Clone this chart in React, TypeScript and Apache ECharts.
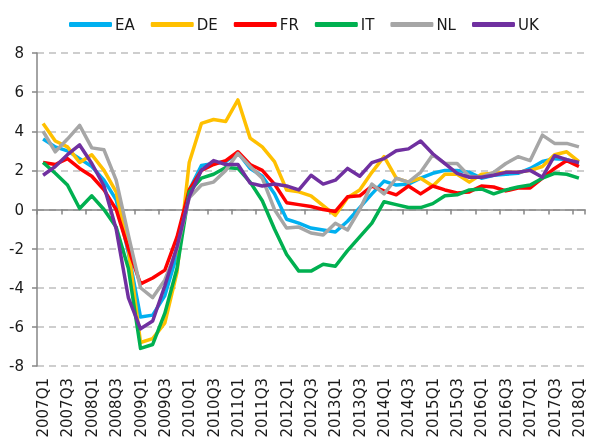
import React, { useEffect, useRef } from "react";
import * as echarts from "echarts";

const categories = [
  "2007Q1", "2007Q2", "2007Q3", "2007Q4",
  "2008Q1", "2008Q2", "2008Q3", "2008Q4",
  "2009Q1", "2009Q2", "2009Q3", "2009Q4",
  "2010Q1", "2010Q2", "2010Q3", "2010Q4",
  "2011Q1", "2011Q2", "2011Q3", "2011Q4",
  "2012Q1", "2012Q2", "2012Q3", "2012Q4",
  "2013Q1", "2013Q2", "2013Q3", "2013Q4",
  "2014Q1", "2014Q2", "2014Q3", "2014Q4",
  "2015Q1", "2015Q2", "2015Q3", "2015Q4",
  "2016Q1", "2016Q2", "2016Q3", "2016Q4",
  "2017Q1", "2017Q2", "2017Q3", "2017Q4",
  "2018Q1",
];

const EA = [3.6, 3.2, 3.0, 2.6, 2.2, 1.5, 0.5, -2.2, -5.5, -5.4, -4.4, -2.3, 1.0, 2.25, 2.35, 2.45, 2.9, 2.1, 1.7, 0.8, -0.5, -0.7, -0.95, -1.05, -1.15, -0.6, 0.1, 0.8, 1.45, 1.25, 1.3, 1.6, 1.85, 2.0, 2.0, 1.9, 1.6, 1.75, 1.8, 1.85, 2.1, 2.45, 2.6, 2.55, 2.35];
const DE = [4.4, 3.5, 3.2, 2.4, 2.8, 2.0, 0.9, -2.0, -6.8, -6.6, -5.8, -3.2, 2.4, 4.4, 4.6, 4.5, 5.6, 3.65, 3.2, 2.45, 1.0, 0.9, 0.7, 0.2, -0.3, 0.6, 1.0, 1.9, 2.7, 1.6, 1.4, 1.6, 1.2, 1.8, 1.8, 1.4, 1.8, 1.85, 1.9, 1.9, 2.0, 2.2, 2.8, 2.95, 2.45];
const FR = [2.4, 2.3, 2.6, 2.1, 1.7, 1.0, 0.0, -2.0, -3.8, -3.5, -3.1, -1.4, 1.0, 2.0, 2.3, 2.5, 2.95, 2.3, 2.0, 1.3, 0.35, 0.25, 0.15, 0.0, -0.1, 0.65, 0.7, 1.2, 0.95, 0.75, 1.2, 0.8, 1.2, 1.0, 0.85, 0.9, 1.2, 1.15, 0.95, 1.1, 1.1, 1.6, 2.1, 2.5, 2.2];
const IT = [2.4, 1.85, 1.25, 0.05, 0.7, 0.0, -0.9, -3.0, -7.1, -6.9, -5.3, -3.0, 0.9, 1.6, 1.8, 2.15, 2.1, 1.4, 0.45, -1.0, -2.3, -3.15, -3.15, -2.8, -2.9, -2.1, -1.4, -0.7, 0.4, 0.25, 0.1, 0.1, 0.3, 0.7, 0.75, 1.0, 1.05, 0.8, 1.0, 1.15, 1.25, 1.6, 1.85, 1.8, 1.6];
const NL = [4.0, 2.95, 3.6, 4.3, 3.15, 3.05, 1.5, -1.3, -4.0, -4.5, -3.6, -2.0, 0.6, 1.25, 1.4, 2.0, 2.87, 2.2, 1.6, 0.0, -0.95, -0.9, -1.2, -1.3, -0.7, -1.05, 0.0, 1.3, 0.8, 1.6, 1.4, 1.9, 2.8, 2.35, 2.35, 1.7, 1.65, 1.9, 2.35, 2.7, 2.5, 3.8, 3.38, 3.38, 3.2];
const UK = [1.75, 2.2, 2.8, 3.3, 2.35, 1.2, -1.0, -4.5, -6.1, -5.7, -3.9, -1.9, 0.65, 2.0, 2.5, 2.3, 2.3, 1.35, 1.2, 1.3, 1.2, 1.0, 1.75, 1.3, 1.5, 2.1, 1.7, 2.4, 2.6, 3.0, 3.1, 3.5, 2.85, 2.35, 1.85, 1.65, 1.65, 1.75, 1.9, 1.9, 2.0, 1.65, 2.75, 2.55, 2.4];

const seriesNames = ["EA", "DE", "FR", "IT", "NL", "UK"];
const seriesData = [EA, DE, FR, IT, NL, UK];
const seriesColors = ["#00B0F0", "#FFC000", "#FF0000", "#00B050", "#A6A6A6", "#7030A0"];

const FONT = "DejaVu Sans";
const TEXT = "#1a1a1a";

export default function App() {
  const ref = useRef<HTMLDivElement>(null);
  useEffect(() => {
    if (!ref.current) return;
    const chart = echarts.init(ref.current, null, { renderer: "svg" });
    chart.setOption({
      animation: false,
      legend: {
        data: seriesNames.map((n) => ({ name: n, icon: "roundRect" })),
        top: 12,
        left: 64,
        itemWidth: 43,
        itemHeight: 5,
        itemGap: 16,
        textStyle: { fontFamily: FONT, fontSize: 15, color: TEXT, padding: [0, 0, 0, -2] },
      },
      grid: { left: 37, right: 5, top: 53, bottom: 75, containLabel: false },
      xAxis: [
        {
          type: "category",
          data: categories,
          boundaryGap: true,
          position: "bottom",
          axisLine: { show: true, onZero: true, lineStyle: { color: "#868686", width: 1.5 } },
          axisTick: { show: true, interval: 1, length: 5, alignWithLabel: false, lineStyle: { color: "#868686", width: 1.5 } },
          axisLabel: { show: false },
          splitLine: { show: false },
        },
        {
          type: "category",
          data: categories,
          boundaryGap: true,
          position: "bottom",
          axisLine: { show: false, onZero: false },
          axisTick: { show: false },
          axisLabel: {
            show: true,
            interval: 1,
            rotate: 90,
            margin: 12,
            fontFamily: FONT,
            fontSize: 15,
            color: TEXT,
          },
          splitLine: { show: false },
        },
      ],
      yAxis: {
        type: "value",
        min: -8,
        max: 8,
        interval: 2,
        axisLine: { show: true, lineStyle: { color: "#868686", width: 1.5 } },
        axisTick: { show: true, length: 5, lineStyle: { color: "#868686", width: 1.5 } },
        axisLabel: { fontFamily: FONT, fontSize: 15, color: TEXT, margin: 13 },
        splitLine: { show: true, lineStyle: { color: "#BFBFBF", width: 1.5, type: [7, 5] } },
      },
      series: seriesNames.map((name, k) => ({
        name,
        type: "line",
        xAxisIndex: 0,
        data: seriesData[k],
        showSymbol: false,
        symbol: "none",
        color: seriesColors[k],
        itemStyle: { color: seriesColors[k] },
        lineStyle: { color: seriesColors[k], width: 3.5, join: "round" },
      })),
    });
    return () => chart.dispose();
  }, []);
  return <div ref={ref} style={{ position: "fixed", left: 0, top: 0, width: 590, height: 441 }} />;
}
